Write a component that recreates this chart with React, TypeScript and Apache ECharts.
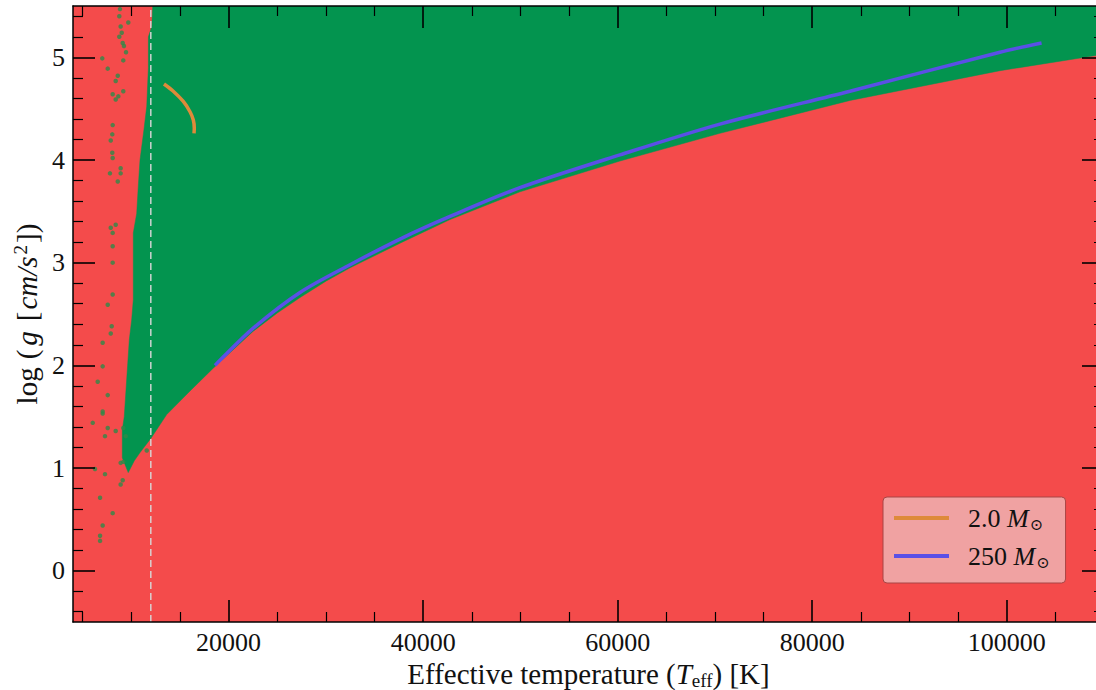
import React, { useEffect, useRef } from 'react';
import * as echarts from 'echarts';

// Axis ranges and ticks
const X_MIN = 4000;
const X_MAX = 110000;
const Y_MIN = -0.5;
const Y_MAX = 5.5;
const xMajorTicks = [20000, 40000, 60000, 80000, 100000];
const xMinorTicks = [5000, 10000, 15000, 25000, 30000, 35000, 45000, 50000, 55000, 65000, 70000, 75000, 85000, 90000, 95000, 105000];
const yMajorTicks = [0, 1, 2, 3, 4, 5];
const yMinorTicks = [-0.4, -0.2, 0.2, 0.4, 0.6, 0.8, 1.2, 1.4, 1.6, 1.8, 2.2, 2.4, 2.6, 2.8, 3.2, 3.4, 3.6, 3.8, 4.2, 4.4, 4.6, 4.8, 5.2, 5.4];
const teffMarker = 12000;

// Green region: left edge (top to bottom tip)
const leftBoundary: number[][] = [
  [12200, 5.5], [12100, 5.3], [11750, 5.2], [11750, 4.9], [11580, 4.52], [11300, 4.3],
  [10890, 4.0], [10710, 3.74], [10550, 3.48], [10200, 3.29], [10200, 2.64], [10030, 2.44],
  [9790, 2.25], [9450, 1.76], [9270, 1.5], [9070, 1.37], [9070, 1.1], [9680, 0.955],
];
// Green region: lower edge (tip to right border)
const lowerBoundary: number[][] = [
  [10300, 1.07], [10890, 1.15], [12020, 1.29], [13630, 1.52], [16030, 1.75], [18390, 1.97],
  [22500, 2.33], [25000, 2.51], [27340, 2.66], [30000, 2.82], [32480, 2.95], [37620, 3.19],
  [42760, 3.42], [49950, 3.69], [60230, 3.99], [70510, 4.26], [83880, 4.58], [99300, 4.87],
  [110000, 5.03], [110000, 5.5],
];

// Scattered green points in the red region
const scatterPoints: number[][] = [
  [8830, 5.47], [8760, 5.40], [9685, 5.34], [8900, 5.30], [9010, 5.24], [8760, 5.20], [9110, 5.14],
  [9240, 5.11], [9450, 5.05], [7010, 4.99], [9170, 4.97], [7570, 4.89], [8600, 4.82], [8390, 4.77],
  [8080, 4.64], [8390, 4.59], [8660, 4.62], [9170, 4.67], [8080, 4.34], [8040, 4.25], [7880, 4.19],
  [8040, 4.07], [8080, 4.02], [8900, 3.92], [8900, 3.87], [7800, 3.87], [8600, 3.79], [8390, 3.37],
  [7880, 3.34], [8080, 3.29], [8080, 3.16], [8080, 3.00], [8080, 2.69], [7570, 2.59], [7980, 2.38],
  [7880, 2.31], [7050, 2.22], [7050, 1.99], [6540, 1.84], [7570, 1.71], [7050, 1.55], [7050, 1.53],
  [6030, 1.44], [7570, 1.39], [7290, 1.31], [8390, 1.36], [9170, 1.39], [9420, 1.31], [11580, 1.17],
  [8900, 1.05], [9170, 1.06], [6260, 0.99], [7290, 0.94], [9110, 0.88], [8900, 0.84], [6780, 0.71],
  [8080, 0.56], [7050, 0.44], [6780, 0.34], [6780, 0.29],
];

// Tracks
const track250: number[][] = [
  [18600, 2.0], [19110, 2.05], [22500, 2.36], [27340, 2.71], [32480, 2.98], [37620, 3.23],
  [42760, 3.45], [49950, 3.73], [60230, 4.05], [70510, 4.35], [83880, 4.67], [99300, 5.05], [103580, 5.14],
];
const track2: number[][] = [
  [13355, 4.74], [14310, 4.67], [15340, 4.57], [16030, 4.47], [16370, 4.39], [16470, 4.31], [16440, 4.26],
];
const seriesNames = ['2.0 M⊙', '250 M⊙'];

const RED = '#F44B4B';
const GREEN = '#03944F';
const DOT = '#2E8A48';
const ORANGE = '#DE8A3A';
const BLUE = '#5A50E6';
const FONT = "'Liberation Serif', 'DejaVu Serif', serif";

export default function App() {
  const ref = useRef<HTMLDivElement>(null);
  useEffect(() => {
    if (!ref.current) return;
    const chart = echarts.init(ref.current, undefined, { renderer: 'svg' });
    const region = [...leftBoundary, ...lowerBoundary];
    const tickMajor = { color: '#000', width: 1.6 };
    const tickMinor = { color: '#000', width: 1.2 };
    const lbl = { fontFamily: FONT, fontSize: 26, color: '#111' };
    const line = { show: true, onZero: false, lineStyle: { color: '#000', width: 1.5 } };
    const noLine = { show: false, onZero: false };
    const baseX = { type: 'value', min: X_MIN, max: X_MAX, splitLine: { show: false }, z: 10 };
    const baseY = { type: 'value', min: Y_MIN, max: Y_MAX, splitLine: { show: false }, z: 10 };
    const T = 29;
    const LH = 32;
    const nameRich = {
      n: { fontFamily: FONT, fontSize: T, color: '#111', lineHeight: LH },
      sp: { fontFamily: FONT, fontSize: T, color: '#111', lineHeight: LH, padding: [0, 2, 0, 8] },
      i: { fontFamily: FONT, fontSize: T, color: '#111', lineHeight: LH, fontStyle: 'italic' },
      ig: { fontFamily: FONT, fontSize: T, color: '#111', lineHeight: LH, fontStyle: 'italic', padding: [0, 2, 0, 2] },
      sub: { fontFamily: FONT, fontSize: 19, color: '#111', lineHeight: 11, verticalAlign: 'bottom' },
      sup: { fontFamily: FONT, fontSize: 19, color: '#111', lineHeight: 11, verticalAlign: 'top', padding: [0, 2, 0, 2] },
    };
    chart.setOption({
      animation: false,
      grid: {
        left: 73, top: 6, right: -8, bottom: 68,
        outerBoundsMode: 'none',
        containLabel: false,
        show: true, backgroundColor: RED, borderWidth: 0,
      },
      legend: {
        data: seriesNames,
        orient: 'vertical',
        left: 883,
        top: 497,
        padding: [7, 16, 13, 11],
        itemGap: 10,
        itemWidth: 55,
        itemHeight: 4,
        icon: 'rect',
        selectedMode: false,
        backgroundColor: '#F0A2A2',
        borderColor: '#A84444',
        borderWidth: 1,
        borderRadius: 4,
        formatter: (name: string) => {
          const num = name.split(' ')[0];
          return `{n|${num} }{m|M}{s|⊙}`;
        },
        textStyle: {
          fontFamily: FONT, fontSize: 26, color: '#111', lineHeight: 28, padding: [0, 0, 0, 14],
          rich: {
            n: { fontFamily: FONT, fontSize: 26, color: '#111', lineHeight: 28 },
            m: { fontFamily: FONT, fontSize: 26, color: '#111', lineHeight: 28, fontStyle: 'italic' },
            s: { fontFamily: "'DejaVu Serif', serif", fontSize: 16, color: '#111', lineHeight: 14, verticalAlign: 'bottom', padding: [0, 0, 0, 1] },
          },
        },
      },
      xAxis: [
        {
          ...baseX, position: 'bottom',
          axisLine: line,
          axisTick: { show: true, inside: true, length: 22, lineStyle: tickMajor, customValues: xMajorTicks },
          axisLabel: { show: true, customValues: xMajorTicks, margin: 7, formatter: (v: number) => String(v), ...lbl },
          name: '{n|Effective temperature (}{i|T}{sub|eff}{n|) [K]}',
          nameLocation: 'middle',
          nameGap: 35,
          nameTextStyle: { rich: nameRich },
        },
        {
          ...baseX, position: 'bottom',
          axisLine: noLine,
          axisTick: { show: true, inside: true, length: 10, lineStyle: tickMinor, customValues: xMinorTicks },
          axisLabel: { show: false },
        },
        {
          ...baseX, position: 'top',
          axisLine: line,
          axisTick: { show: true, inside: true, length: 22, lineStyle: tickMajor, customValues: xMajorTicks },
          axisLabel: { show: false },
        },
        {
          ...baseX, position: 'top',
          axisLine: noLine,
          axisTick: { show: true, inside: true, length: 10, lineStyle: tickMinor, customValues: xMinorTicks },
          axisLabel: { show: false },
        },
      ],
      yAxis: [
        {
          ...baseY, position: 'left',
          axisLine: line,
          axisTick: { show: true, inside: true, length: 22, lineStyle: tickMajor, customValues: yMajorTicks },
          axisLabel: { show: true, customValues: yMajorTicks, margin: 8, formatter: (v: number) => String(v), ...lbl },
          name: '{n|log}{sp|(}{ig|g}{sp|[}{i|cm/s}{sup|2}{n|])}',
          nameLocation: 'middle',
          nameGap: 25,
          nameRotate: 90,
          nameTextStyle: { rich: nameRich },
        },
        {
          ...baseY, position: 'left',
          axisLine: noLine,
          axisTick: { show: true, inside: true, length: 10, lineStyle: tickMinor, customValues: yMinorTicks },
          axisLabel: { show: false },
        },
        {
          ...baseY, position: 'right',
          axisLine: line,
          axisTick: { show: true, inside: true, length: 22, lineStyle: tickMajor, customValues: yMajorTicks },
          axisLabel: { show: false },
        },
        {
          ...baseY, position: 'right',
          axisLine: noLine,
          axisTick: { show: true, inside: true, length: 10, lineStyle: tickMinor, customValues: yMinorTicks },
          axisLabel: { show: false },
        },
      ],
      series: [
        {
          type: 'custom',
          name: 'region',
          silent: true,
          clip: true,
          data: [[X_MIN, Y_MIN]],
          renderItem: (_params: any, api: any) => ({
            type: 'polygon',
            shape: { points: region.map((p) => api.coord(p)) },
            style: { fill: GREEN, stroke: GREEN, lineWidth: 0.5 },
          }),
        },
        {
          type: 'scatter',
          name: 'points',
          silent: true,
          symbol: 'circle',
          symbolSize: 4.5,
          itemStyle: { color: DOT },
          data: scatterPoints,
        },
        {
          type: 'line',
          name: 'marker',
          silent: true,
          symbol: 'none',
          lineStyle: { color: 'rgba(215,215,215,0.95)', width: 1.5, type: [7, 4] },
          data: [[teffMarker, Y_MIN], [teffMarker, Y_MAX]],
        },
        {
          type: 'line',
          name: seriesNames[1],
          symbol: 'none',
          smooth: 0.3,
          color: BLUE,
          lineStyle: { color: BLUE, width: 3.5 },
          data: track250,
        },
        {
          type: 'line',
          name: seriesNames[0],
          symbol: 'none',
          smooth: 0.3,
          color: ORANGE,
          lineStyle: { color: ORANGE, width: 3.5 },
          data: track2,
        },
      ],
    });
    return () => chart.dispose();
  }, []);
  return <div ref={ref} style={{ position: 'fixed', left: 0, top: 0, width: 1096, height: 690, background: '#fff' }} />;
}
